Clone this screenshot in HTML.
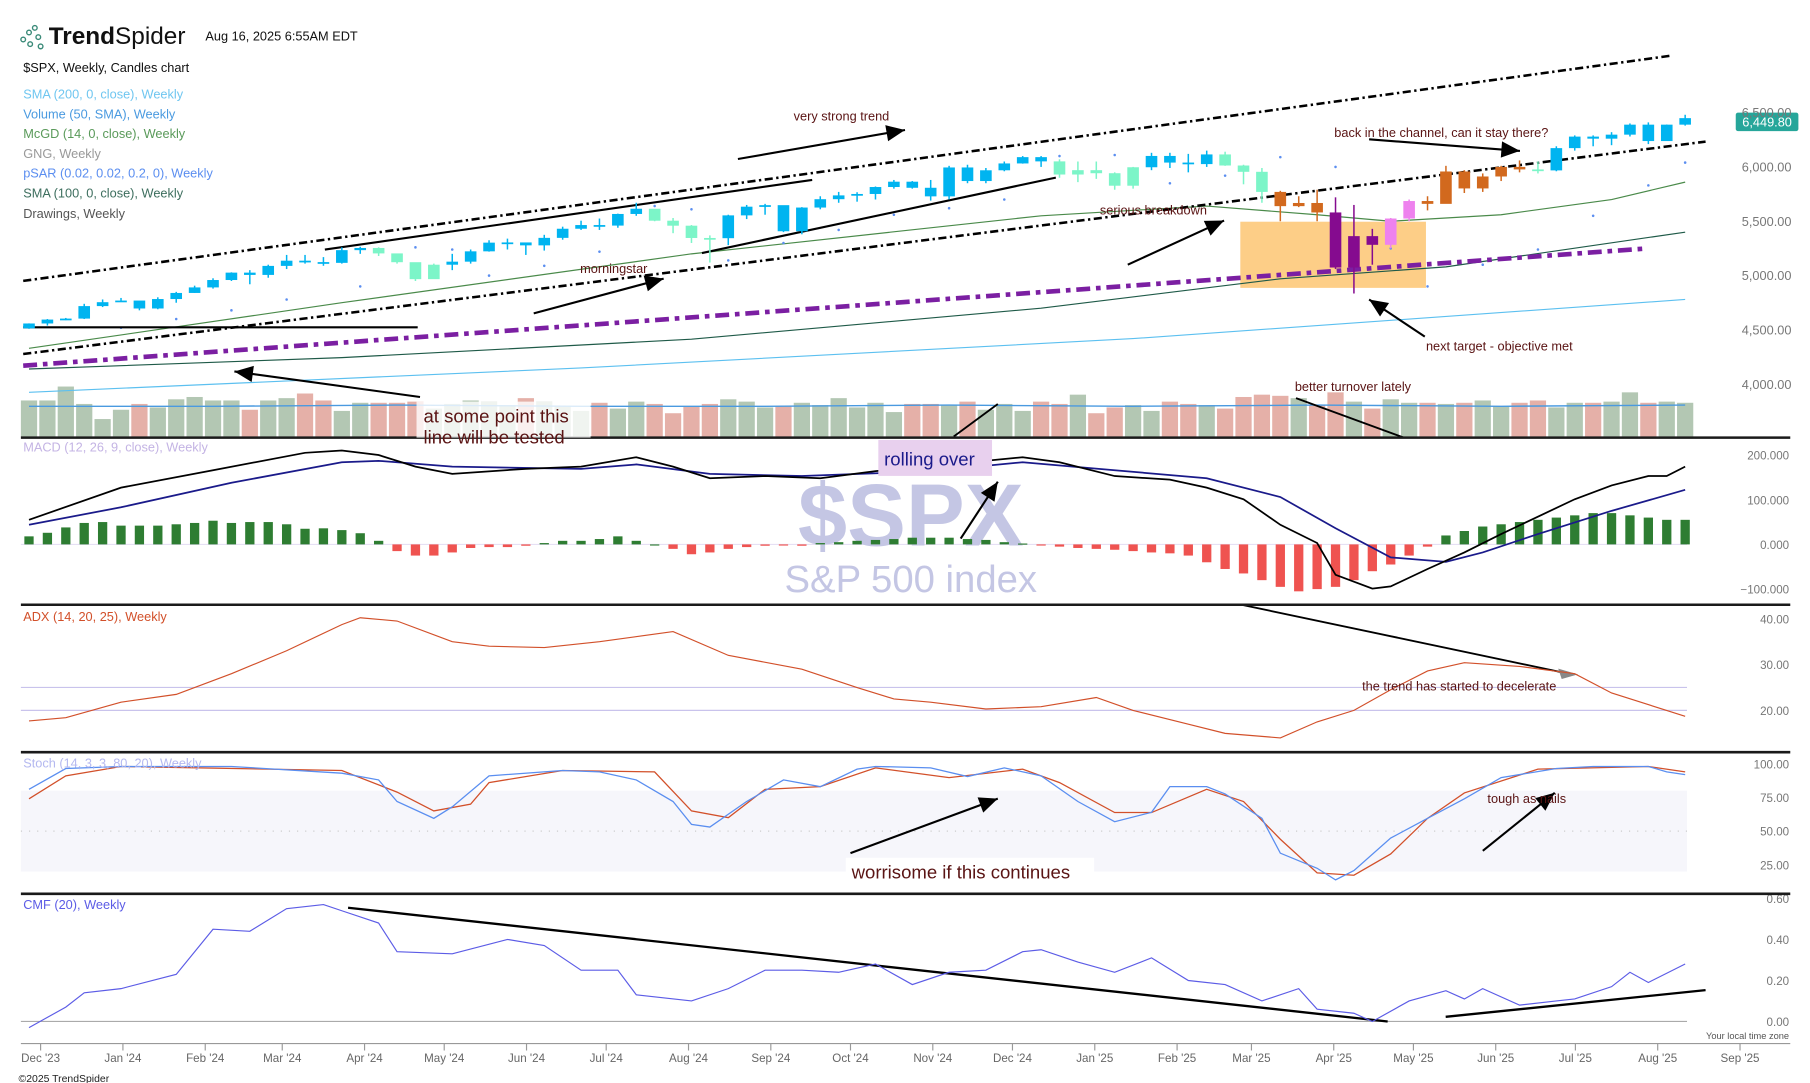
<!DOCTYPE html>
<html><head><meta charset="utf-8"><style>
html,body{margin:0;padding:0;background:#fff;}
svg{display:block;font-family:"Liberation Sans",sans-serif;}
</style></head><body>
<svg id="chart" width="1810" height="1083" viewBox="0 0 1560 933" preserveAspectRatio="none" xmlns="http://www.w3.org/2000/svg">
<rect x="0" y="0" width="1560" height="933" fill="#fff"/>
<g>
  <g fill="none" stroke="#3a8a78" stroke-width="1.2">
    <circle cx="20" cy="34" r="2"/><circle cx="25" cy="28" r="2"/><circle cx="30" cy="24" r="2"/><circle cx="26" cy="38" r="2"/><circle cx="33" cy="32" r="2"/><circle cx="35" cy="40" r="2"/>
  </g>
  <text x="42" y="38" font-size="21" fill="#111"><tspan font-weight="bold">Trend</tspan>Spider</text>
  <text x="177" y="35" font-size="11" fill="#111">Aug 16, 2025 6:55AM EDT</text>
  <text x="20" y="62" font-size="11" fill="#111">$SPX, Weekly, Candles chart</text>
  <text x="20" y="85" font-size="11" fill="#6fc6f0">SMA (200, 0, close), Weekly</text>
  <text x="20" y="102" font-size="11" fill="#4a9ae0">Volume (50, SMA), Weekly</text>
  <text x="20" y="119" font-size="11" fill="#5a9a5a">McGD (14, 0, close), Weekly</text>
  <text x="20" y="136" font-size="11" fill="#999">GNG, Weekly</text>
  <text x="20" y="153" font-size="11" fill="#5b8ef0">pSAR (0.02, 0.02, 0.2, 0), Weekly</text>
  <text x="20" y="170" font-size="11" fill="#3d6e5e">SMA (100, 0, close), Weekly</text>
  <text x="20" y="188" font-size="11" fill="#555">Drawings, Weekly</text>
</g>
<g id="marks"></g>
</svg>
<script>
// ---------- data ----------
const closes=[4559,4595,4604,4719,4755,4770,4697,4784,4840,4891,4959,5027,5006,5089,5137,5124,5117,5234,5254,5204,5123,4967,5100,5128,5223,5303,5305,5278,5347,5431,5465,5460,5567,5615,5505,5459,5346,5344,5554,5634,5648,5408,5626,5703,5738,5751,5815,5864,5808,5729,5995,5870,5969,6032,6090,6051,5930,5970,5942,5827,5997,6101,6040,6026,6115,6013,5955,5770,5639,5668,5581,5074,5363,5283,5525,5686,5660,5958,5802,5912,6000,5977,5968,6173,6279,6260,6297,6389,6238,6389,6449];
const firstOpen=4514;
const highs=[4560,4600,4610,4740,4780,4794,4740,4800,4850,4907,4975,5030,5050,5100,5190,5190,5170,5260,5265,5260,5180,5100,5110,5200,5240,5325,5340,5290,5375,5450,5505,5525,5570,5670,5585,5530,5465,5370,5560,5650,5660,5560,5630,5730,5770,5767,5820,5880,5870,5880,6010,6020,5990,6050,6100,6100,6070,6050,6050,5950,6000,6130,6130,6120,6150,6140,6020,5990,5780,5730,5790,5720,5650,5430,5530,5700,5730,6010,5970,5940,6010,6060,6050,6190,6290,6290,6320,6400,6410,6390,6480];
const lows=[4510,4540,4590,4600,4710,4760,4680,4690,4750,4840,4880,4950,4920,4980,5060,5110,5090,5110,5200,5180,5110,4950,4970,5050,5110,5220,5240,5190,5230,5330,5420,5420,5440,5550,5500,5390,5300,5120,5280,5520,5560,5400,5380,5610,5670,5680,5700,5800,5800,5690,5700,5850,5850,5960,6030,6000,5900,5860,5890,5790,5800,5970,5990,5950,6000,6010,5840,5670,5500,5630,5500,5060,4835,5100,5250,5500,5600,5780,5760,5770,5870,5950,5940,5960,6150,6190,6200,6280,6210,6240,6380];
const gng="BBBBBBBBBBBBBBBBBBBAAAABBBBBBBBBBBAAAABBBBBBBBBBBBBBBBBBAAAAABBBBAAAOOOPPPKKOOOOOOABBBBBBBB";
const volumes=[31,31,43,28,15,23,28,25,32,34,31,31,23,31,33,37,31,22,29,29,29,30,24,28,31,30,27,33,30,26,22,29,24,30,28,20,26,28,32,30,25,26,29,27,33,25,29,21,28,28,27,30,23,28,22,30,28,36,20,25,27,22,30,28,27,24,34,36,35,33,27,38,30,24,32,29,29,28,29,31,26,29,31,25,29,29,30,38,29,30,29];
const volumeSma=[26,26,27,26,26,27,26,27,26,27];
const sma200=[[0,3925],[30,4150],[60,4420],[90,4780]];
const sma100=[[0,4140],[17,4245],[36,4415],[55,4700],[68,4970],[77,5080],[90,5400]];
const mcgd=[[0,4330],[17,4750],[36,5200],[55,5550],[64,5640],[70,5560],[74,5500],[80,5560],[86,5700],[90,5860]];
const psar=[[5,4520],[8,4600],[11,4680],[14,4780],[18,4900],[21,5260],[23,5240],[25,5000],[28,5090],[31,5220],[34,5640],[36,5610],[38,5140],[41,5300],[44,5420],[47,5560],[50,5620],[53,5700],[56,6100],[59,6110],[62,5850],[65,5920],[68,6090],[71,6000],[74,5250],[76,4900],[79,5100],[82,5240],[85,5550],[88,5830],[90,6040]];
const macdIdx=[0,5,10,15,17,19,21,23,27,30,33,35,37,40,43,46,50,54,56,59,62,64,66,68,70,71,73,74,76,78,80,82,84,86,88,89,90];
const macdLine=[55,127,166,205,210,200,174,158,169,174,195,174,148,153,148,164,179,195,184,153,145,127,101,44,3,-68,-99,-94,-55,-18,23,62,101,132,153,153,174];
const sigIdx=[0,5,11,17,19,23,30,33,37,42,49,54,59,64,68,71,74,77,79,82,86,90];
const signalLine=[44,83,138,184,187,174,169,179,158,153,164,184,166,148,106,36,-29,-39,-18,23,75,122];
const histogram=[18,26,38,48,50,42,42,42,45,48,53,48,50,50,45,35,36,32,25,8,-15,-25,-25,-18,-8,-6,-6,-3,3,8,8,12,18,8,0,-10,-22,-18,-10,-6,-3,-2,-3,3,5,8,10,12,15,15,15,12,10,5,2,-2,-5,-8,-10,-12,-15,-18,-20,-25,-40,-55,-65,-80,-95,-105,-100,-95,-80,-60,-45,-25,-5,20,30,40,45,50,55,60,65,70,70,65,60,55,55];
const adxIdx=[0,2,5,8,11,14,17,18,20,23,25,28,31,35,38,42,45,47,49,52,55,58,60,63,65,68,70,72,74,76,78,81,84,86,90];
const adxLine=[17.7,18.4,21.8,23.5,28,33,38.7,40.2,39.5,35,34,33.7,35,37.2,32,29,25,22.5,21.8,20.3,20.8,22.8,20,17,15,14,17.5,20,24.5,28.6,30.4,29.6,28,23.8,18.7];
const stochIdx=[0,2,5,11,17,19,20,22,23,25,29,31,33,35,36,37,39,41,43,45,46,49,51,53,55,57,59,61,62,64,65,67,68,70,71,72,74,76,78,80,83,85,88,89,90];
const stochK=[81,96.5,98,98,93,88,72,59.5,68,91,95,94,88,72,55,53,72,88,83,96,98,97,90.5,97,91,72,57,64,83,83,77.6,59.5,33.6,22.4,13.8,20.7,44.8,59.5,74,89.7,96.5,98,98,94,92];
const stochDIdx=[0,2,5,17,20,22,24,25,29,34,36,38,40,43,46,50,54,56,59,61,64,66,68,70,72,74,76,78,82,88,90];
const stochD=[74,91,98,95,79,65,70,86,95,94,65,60,81,83,97,89.7,96,86,63.8,63.8,81,72,44,19,17.2,33,59.5,78.4,96,98,94];
const cmfIdx=[0,2,3,5,8,10,12,14,16,17,19,20,23,26,28,30,32,33,36,38,40,42,44,46,48,50,52,54,55,57,59,61,63,65,67,69,70,72,73,75,77,78,79,81,83,84,86,87,88,90];
const cmf=[-0.03,0.07,0.14,0.16,0.23,0.45,0.44,0.55,0.57,0.54,0.48,0.34,0.33,0.40,0.37,0.25,0.25,0.13,0.10,0.16,0.25,0.25,0.24,0.28,0.18,0.24,0.25,0.34,0.35,0.29,0.24,0.31,0.20,0.18,0.10,0.16,0.06,0.04,0.0,0.10,0.15,0.11,0.16,0.08,0.10,0.11,0.17,0.24,0.19,0.28];
const priceTicks=[4000,4500,5000,5500,6000,6500];
const macdTicks=[200,100,0,-100];
const adxTicks=[40,30,20];
const stochTicks=[100,75,50,25];
const cmfTicks=[0.6,0.4,0.2,0];
const monthLabels=["Dec '23","Jan '24","Feb '24","Mar '24","Apr '24","May '24","Jun '24","Jul '24","Aug '24","Sep '24","Oct '24","Nov '24","Dec '24","Jan '25","Feb '25","Mar '25","Apr '25","May '25","Jun '25","Jul '25","Aug '25","Sep '25"];
const monthDays=[0,31,62,91,122,152,183,213,244,275,305,336,366,397,428,456,487,517,548,578,609,640];

// ---------- axes ----------
const X=i=>25+i*15.86;
const XD=d=>35+d/7*16.02;
const yP=p=>331-(p-4000)*0.0936;
const yM=v=>469-v*0.385;
const yA=v=>612-(v-20)*3.95;
const yS=v=>745-(v-25)*1.16;
const yC=v=>880-v*176.7;
const NS="http://www.w3.org/2000/svg";
const root=document.getElementById('marks');
function mk(tag,attrs,parent){const e=document.createElementNS(NS,tag);for(const k in attrs)e.setAttribute(k,attrs[k]);(parent||root).appendChild(e);return e;}
function grp(name){const g=mk('g',{});return g;}
function poly(name,idx,vals,yf,stroke,w,dash,parent){const pts=idx.map((i,k)=>X(i).toFixed(1)+','+yf(vals[k]).toFixed(1)).join(' ');const e=mk('polyline',{points:pts,fill:'none',stroke:stroke,'stroke-width':w},parent);if(dash)e.setAttribute('stroke-dasharray',dash);return e;}
function txt(name,x,y,s,opts,parent){const e=mk('text',Object.assign({x:x,y:y},opts||{}),parent);e.textContent=s;return e;}

// backgrounds / guides
const guides=grp('panel-guides');
mk('rect',{x:18,y:yS(80),width:1436,height:yS(20)-yS(80),fill:'#f6f6fb'},guides);
mk('line',{x1:18,x2:1454,y1:yS(50),y2:yS(50),stroke:'#ccc','stroke-dasharray':'1,6'},guides);
mk('line',{x1:18,x2:1454,y1:yA(25),y2:yA(25),stroke:'#c9c3ec'},guides);
mk('line',{x1:18,x2:1454,y1:yA(20),y2:yA(20),stroke:'#c9c3ec'},guides);
mk('line',{x1:18,x2:1454,y1:yM(0),y2:yM(0),stroke:'#e6e0f4'},guides);
mk('line',{x1:18,x2:1454,y1:yC(0),y2:yC(0),stroke:'#aaa'},guides);

// watermark
const wm=grp('watermark');
txt('watermark-symbol',785,470,'$SPX',{'font-size':76,'font-weight':'bold',fill:'#c4c6e4','text-anchor':'middle'},wm);
txt('watermark-name',785,510,'S&P 500 index',{'font-size':33,fill:'#c4c6e4','text-anchor':'middle'},wm);

// orange box
mk('rect',{x:1069,y:191,width:160,height:57,fill:'#fdc97a',opacity:0.9});

// volume
const vg=grp('volume-bars');
for(let i=0;i<closes.length;i++){const o=i?closes[i-1]:firstOpen;const r=mk('rect',{x:X(i)-7,y:376-volumes[i],width:14,height:volumes[i],fill:closes[i]<o?'#e5b0a8':'#b3c7b3'},vg);}
poly('volume-sma-line',volumeSma.map((v,k)=>k*10),volumeSma,v=>376-v,'#4a9ae0',1.2);

// MAs
poly('sma200-line',sma200.map(d=>d[0]),sma200.map(d=>d[1]),yP,'#5cc0f0',1);
poly('sma100-line',sma100.map(d=>d[0]),sma100.map(d=>d[1]),yP,'#1f5a48',1);
poly('mcgd-line',mcgd.map(d=>d[0]),mcgd.map(d=>d[1]),yP,'#4a8a4a',1);
// psar
const pg=grp('psar-dots');
psar.forEach(d=>{const c=mk('circle',{cx:X(d[0]),cy:yP(d[1]),r:1.1,fill:'#5b8ef0'},pg);});

// drawings
const dr=grp('drawings');
function ln(name,x1,y1,x2,y2,w,dash,col){const e=mk('line',{x1,y1,x2,y2,stroke:col||'#000','stroke-width':w},dr);if(dash)e.setAttribute('stroke-dasharray',dash);}
ln('upper-channel-line',20,242,1440,48,2.2,'7,3,2,3');
ln('lower-channel-line',20,305,1470,122,2.2,'7,3,2,3');
ln('purple-support-line',20,315,1420,214,4,'12,5,4,5','#7b1fa2');
ln('horizontal-line',20,282,360,282,1.8);
ln('trend-segment-1',280,215,700,155,1.8);
ln('trend-segment-2',605,218,910,153,1.8);
ln('macd-divergence-line',1070,521,1350,580,1.6);
ln('cmf-down-line',300,782,1196,880,2);
ln('cmf-up-line',1246,876,1470,853,2);
function arrow(name,x1,y1,x2,y2){ln(name,x1,y1,x2,y2,1.8);const a=Math.atan2(y2-y1,x2-x1),L=16,W=7;const p=[[x2,y2],[x2-L*Math.cos(a)+W*Math.sin(a),y2-L*Math.sin(a)-W*Math.cos(a)],[x2-L*Math.cos(a)-W*Math.sin(a),y2-L*Math.sin(a)+W*Math.cos(a)]];const e=mk('polygon',{points:p.map(q=>q.join(',')).join(' '),fill:'#000'},dr);}
arrow('arrow-strong-trend',636,137,780,112);
arrow('arrow-morningstar',460,270,572,240);
arrow('arrow-line-tested',362,342,202,320);
arrow('arrow-breakdown',972,228,1055,190);
arrow('arrow-target',1228,290,1180,258);
arrow('arrow-channel',1180,120,1310,130);
arrow('arrow-rolling',828,464,860,415);
arrow('arrow-worrisome',733,735,860,688);
arrow('arrow-tough',1278,733,1340,683);
ln('arrow-turnover',1117,343,1210,377,1.6);
ln('arrow-rolling-vol',822,376,860,348,1.6);
mk('polygon',{points:'1343,576 1360,581 1346,585',fill:'#888'},dr);

// candles
const colors={B:'#00b4f0',A:'#7cf5c8',O:'#d2691e',P:'#850b8f',K:'#ee82ee'};
const cg=grp('candles');
for(let i=0;i<closes.length;i++){const o=i?closes[i-1]:firstOpen,c=closes[i];const col=colors[gng[i]];const x=X(i);
 const w=mk('line',{x1:x,x2:x,y1:yP(highs[i]),y2:yP(lows[i]),stroke:col,'stroke-width':1.3},cg);
 const t=Math.min(yP(o),yP(c)),h=Math.max(1.5,Math.abs(yP(o)-yP(c)));
 const r=mk('rect',{x:x-5,y:t,width:10,height:h,fill:col},cg);}

// price label
const pl=grp('last-price-label');
mk('rect',{x:1496,y:97,width:54,height:16,rx:2,fill:'#26a69a'},pl);
txt('last-price-value',1523,109,closes[closes.length-1].toLocaleString('en-US')+'.80',{'font-size':11,fill:'#fff','text-anchor':'middle'},pl);

// MACD
const hg=grp('macd-histogram');
histogram.forEach((v,i)=>{const r=mk('rect',{x:X(i)-4,y:Math.min(yM(v),yM(0)),width:8,height:Math.max(1,Math.abs(yM(v)-yM(0))),fill:v>=0?'#2e7d32':'#ef5350'},hg);});
poly('macd-signal-line',sigIdx,signalLine,yM,'#1a1a8a',1.5);
poly('macd-line',macdIdx,macdLine,yM,'#000',1.5);
// ADX
poly('adx-line',adxIdx,adxLine,yA,'#d2502a',1);
// Stoch
poly('stoch-d-line',stochDIdx,stochD,yS,'#d2502a',1.1);
poly('stoch-k-line',stochIdx,stochK,yS,'#5a8ef0',1.1);
// CMF
poly('cmf-line',cmfIdx,cmf,yC,'#5c5ce6',1);

// axes labels
const ax=grp('right-axes');
priceTicks.forEach(v=>txt('price-tick',1544,yP(v)+4,v.toLocaleString('en-US')+'.00',{'font-size':11,fill:'#777','text-anchor':'end'},ax));
macdTicks.forEach(v=>txt('macd-tick',1542,yM(v)+4,(v<0?'−':'')+Math.abs(v).toFixed(3),{'font-size':10,fill:'#777','text-anchor':'end'},ax));
adxTicks.forEach(v=>txt('adx-tick',1542,yA(v)+4,v.toFixed(2),{'font-size':10,fill:'#777','text-anchor':'end'},ax));
stochTicks.forEach(v=>txt('stoch-tick',1542,yS(v)+4,v.toFixed(2),{'font-size':10,fill:'#777','text-anchor':'end'},ax));
cmfTicks.forEach(v=>txt('cmf-tick',1542,yC(v)+4,v.toFixed(2),{'font-size':10,fill:'#777','text-anchor':'end'},ax));
txt('timezone-label',1542,895,'Your local time zone',{'font-size':8,fill:'#555','text-anchor':'end'},ax);

// separators
const sp=grp('panel-separators');
[377,521,648,770].forEach(y=>mk('line',{x1:18,x2:1543,y1:y,y2:y,stroke:'#1a1a1a','stroke-width':2.2},sp));
mk('line',{x1:18,x2:1543,y1:899,y2:899,stroke:'#999','stroke-width':1},sp);

// x axis
const xa=grp('x-axis');
monthLabels.forEach((m,k)=>{const x=XD(monthDays[k]);mk('line',{x1:x,x2:x,y1:899,y2:905,stroke:'#999'},xa);txt('x-tick-label',x,915,m,{'font-size':10,fill:'#666','text-anchor':'middle'},xa);});
txt('copyright',16,932,'©2025 TrendSpider',{'font-size':9,fill:'#222'},xa);

// panel titles
const pt=grp('panel-titles');
txt('macd-title',20,389,'MACD (12, 26, 9, close), Weekly',{'font-size':11,fill:'#c4b4e4'},pt);
txt('adx-title',20,535,'ADX (14, 20, 25), Weekly',{'font-size':11,fill:'#d2502a'},pt);
txt('stoch-title',20,661,'Stoch (14, 3, 3, 80, 20), Weekly',{'font-size':11,fill:'#b4b8f0'},pt);
txt('cmf-title',20,783,'CMF (20), Weekly',{'font-size':11,fill:'#5c5ce6'},pt);

// annotations
const an=grp('annotations');const ac='#5a1414';
txt('note-strong-trend',684,104,'very strong trend',{'font-size':11,fill:ac},an);
txt('note-morningstar',500,235,'morningstar',{'font-size':11,fill:ac},an);
txt('note-breakdown',948,185,'serious breakdown',{'font-size':11,fill:ac},an);
txt('note-channel',1150,118,'back in the channel, can it stay there?',{'font-size':11,fill:ac},an);
txt('note-target',1229,302,'next target - objective met',{'font-size':11,fill:ac},an);
txt('note-turnover',1116,337,'better turnover lately',{'font-size':11,fill:ac},an);
txt('note-decelerate',1174,595,'the trend has started to decelerate',{'font-size':11,fill:ac},an);
txt('note-tough',1282,692,'tough as nails',{'font-size':11,fill:ac},an);
mk('rect',{x:359,y:346,width:150,height:31,fill:'#fff',opacity:0.8},an);
txt('note-line-tested',365,364,'at some point this',{'font-size':16,fill:ac},an);
txt('note-line-tested-2',365,382,'line will be tested',{'font-size':16,fill:ac},an);
mk('rect',{x:757,y:379,width:98,height:31,fill:'#e8d0ee'},an);
txt('note-rolling-over',762,401,'rolling over',{'font-size':16,fill:'#1a1a8a'},an);
mk('rect',{x:729,y:739,width:214,height:24,fill:'#fff'},an);
txt('note-worrisome',734,757,'worrisome if this continues',{'font-size':16,fill:ac},an);
</script>
</body></html>
